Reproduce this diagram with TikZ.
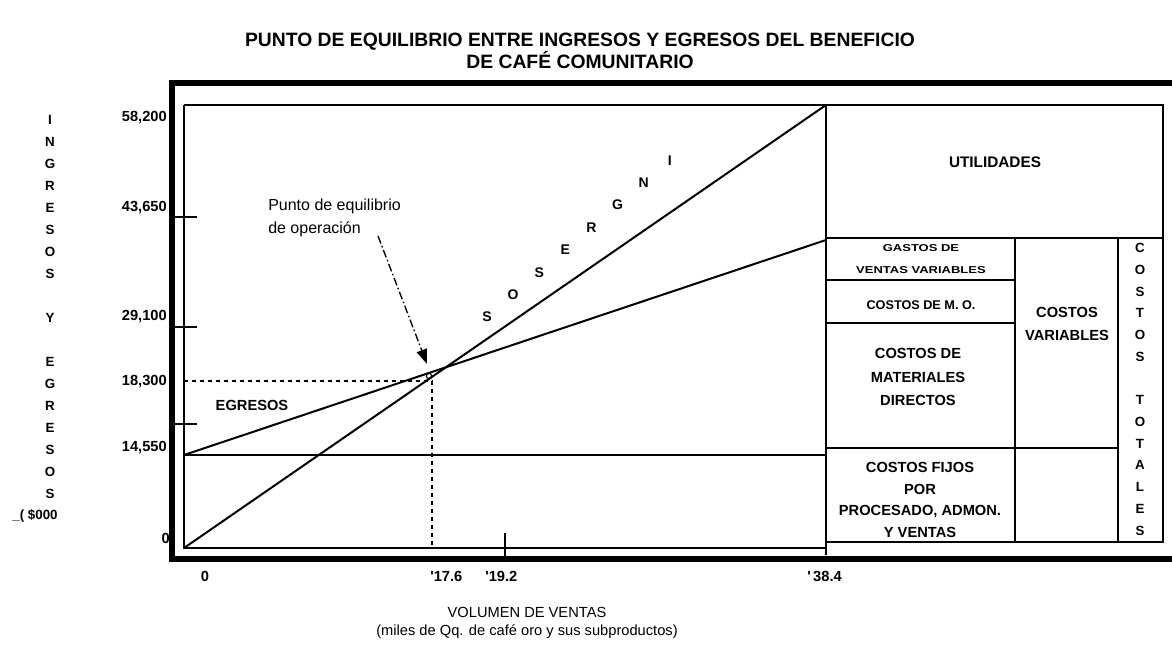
\documentclass[tikz,border=0pt]{standalone}
\usepackage{fontspec}
\setmainfont{Liberation Sans}
\newfontfamily\widefont[FakeStretch=1.3]{Liberation Sans}
\usetikzlibrary{arrows.meta}

\begin{document}
\begin{tikzpicture}[x=0.75pt,y=-0.75pt]
    \def\fsz#1#2{\fontsize{#1}{#2}\selectfont}

    \tikzstyle{lbl}=[inner sep=0pt,font=\fsz{11}{17}\bfseries]
    \tikzstyle{ylbl}=[lbl,anchor=east]
    \tikzstyle{xlbl}=[lbl,anchor=west]
    \tikzstyle{cell}=[lbl,align=center]
    \tikzstyle{vword}=[inner sep=0pt,anchor=north,align=center,font=\fsz{10}{16.5}\bfseries]
    \tikzstyle{frame}=[draw=black,line width=4.5pt]
    \tikzstyle{rule}=[draw=black,line width=1.3pt]
    \tikzstyle{curve}=[draw=black,line width=1.5pt]
    \tikzstyle{guide}=[draw=black,dashed,line width=0.9pt]

    \useasboundingbox (0,0) rectangle (1172,648);

    % corners of the chart
    \coordinate (o)  at (184,548);
    \coordinate (tl) at (184,105);
    \coordinate (tr) at (826,105);
    \coordinate (br) at (826,548);
    \coordinate (f0) at (184,455);
    \coordinate (f1) at (826,455);
    \coordinate (e1) at (826,240);
    \coordinate (pe) at (432,381);
    \coordinate (ptip) at (427,364);

    \node[font=\fsz{14.5}{14}\bfseries,align=center] (title) at (580,51)
        {PUNTO DE EQUILIBRIO ENTRE INGRESOS Y EGRESOS DEL BENEFICIO\\DE CAF\'E COMUNITARIO};

    % outer frame
    \draw[frame] (1172,83) -- (172,83) -- (172,559) -- (1172,559);

    % chart box and cost table
    \draw[rule] (tl) -- (o) -- (br);
    \draw[rule] (tl) -- (1163,105) -- (1163,542) -- (826,542);
    \draw[rule] (826,105) -- (826,555);
    \draw[rule] (826,238) -- (1163,238);
    \draw[rule] (1015,238) -- (1015,542);
    \draw[rule] (1118,238) -- (1118,542);
    \draw[rule] (826,280) -- (1015,280);
    \draw[rule] (826,323) -- (1015,323);
    \draw[rule] (826,448) -- (1118,448);
    \draw[rule] (f0) -- (f1);

    \foreach \y in {217,327,424}
        \draw[rule] (172,\y) -- (197,\y);
    \draw[rule] (505,533) -- (505,556);

    % ingresos and egresos
    \draw[curve] (o) -- (tr);
    \draw[curve] (f0) -- (e1);
    \draw[guide] (184,381) -- (pe) -- (432,548);
    \draw[line width=0.8pt] (429,376) circle[radius=2pt];

    \node[ylbl] (y58) at (167,118) {58,200};
    \node[ylbl] (y43) at (167,208) {43,650};
    \node[ylbl] (y29) at (167,317) {29,100};
    \node[ylbl] (y18) at (167,382) {18,300};
    \node[ylbl] (y14) at (167,448) {14,550};
    \node[ylbl] (y0)  at (170,538) {0};

    \node[lbl] (x0) at (205,576) {0};
    \node[xlbl] (x17) at (430,576) {\textquotesingle17.6};
    \node[xlbl] (x19) at (485,576) {\textquotesingle19.2};
    \node[xlbl] (x38) at (807,576) {\textquotesingle\,38.4};

    \node[vword] (yaxis) at (50,115)
        {I\\N\\G\\R\\E\\S\\O\\S\\[16.5pt]Y\\[16.5pt]E\\G\\R\\E\\S\\O\\S};
    \node[lbl,font=\fsz{10}{12}\bfseries] (unit) at (35,516) {\_( \$000};

    \foreach \c [count=\i from 0] in {S,O,S,E,R,G,N,I}
        \node[lbl,font=\fsz{10.5}{12}\bfseries] (ing\i) at (487+26.1*\i,317-22.4*\i) {\c};

    \node[lbl] (egr) at (252,405) {EGRESOS};
    \node[lbl,align=left,anchor=west,font=\fsz{12}{17.3}] (punto) at (268,218)
        {Punto de equilibrio\\de operaci\'on};
    \coordinate (astart) at (378,236);
    \draw[line width=1pt,dash pattern=on 6pt off 2pt on 1.2pt off 2pt,
          -{Triangle[length=11pt,width=8pt]}] (astart) -- (ptip);

    % cost table
    \node[cell,font=\fsz{11.5}{17}\bfseries] (util) at (995,162) {UTILIDADES};
    \node[cell,font=\widefont\fsz{7.5}{16.5}\bfseries] (gast) at (921,259)
        {GASTOS DE\\VENTAS VARIABLES};
    \node[cell,font=\fsz{9.5}{14}\bfseries] (mo) at (921,305) {COSTOS DE M. O.};
    \node[cell,font=\fsz{11}{17.6}\bfseries] (mat) at (918,377)
        {COSTOS DE\\MATERIALES\\DIRECTOS};
    \node[cell,font=\fsz{11}{16.3}\bfseries] (fij) at (920,500)
        {COSTOS FIJOS\\POR\\PROCESADO, ADMON.\\Y VENTAS};
    \node[cell] (cvar) at (1067,324) {COSTOS\\VARIABLES};
    \node[vword,font=\fsz{10}{16.3}\bfseries] (ctot) at (1140,243)
        {C\\O\\S\\T\\O\\S\\[16.3pt]T\\O\\T\\A\\L\\E\\S};

    \node[cell,font=\fsz{11}{14}] (vol) at (527,623)
        {VOLUMEN DE VENTAS\\(miles de Qq. de caf\'e oro y sus subproductos)};
\end{tikzpicture}
\end{document}
